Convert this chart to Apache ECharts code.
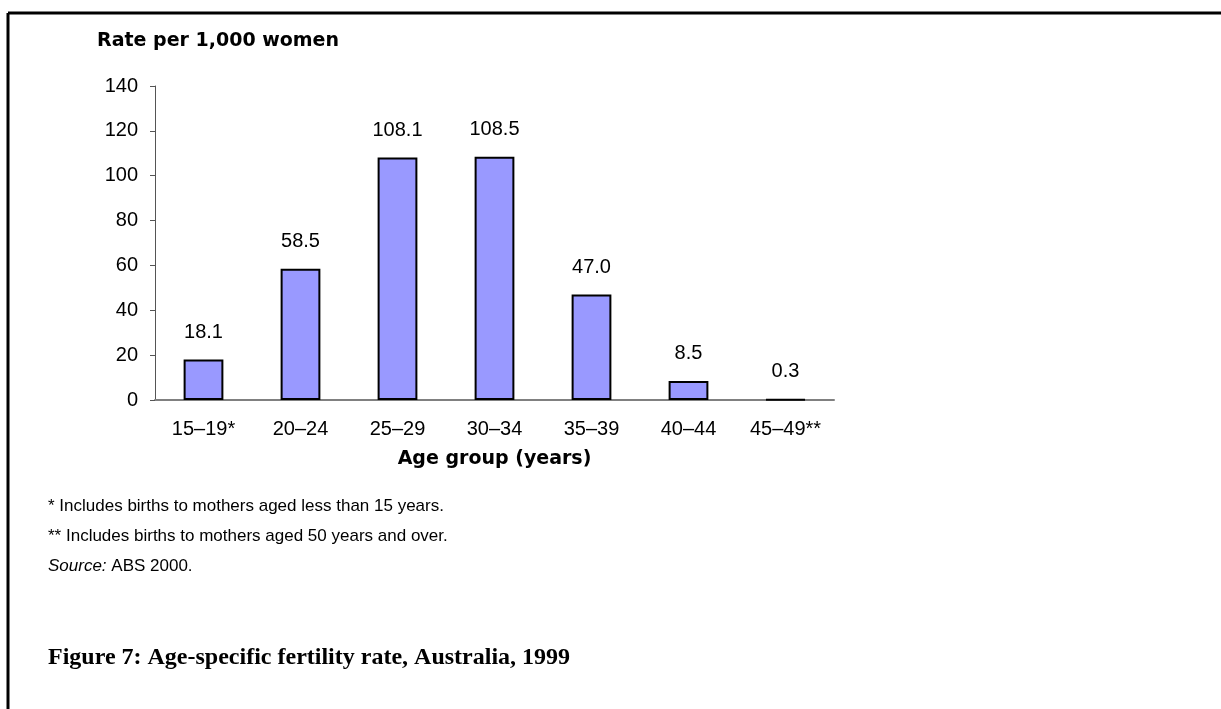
<!DOCTYPE html>
<html lang="en">
  <head>
    <meta charset="UTF-8" />
    <title>Age-specific fertility rate</title>
    <script src="https://cdn.jsdelivr.net/npm/echarts@6/dist/echarts.min.js"></script>
    <style>
      html, body { margin: 0; padding: 0; background: #fff; }
    </style>
  </head>
  <body>
    <div id="main" style="width: 1221px; height: 709px"></div>
    <script type="text/javascript">
      // chart data
      const ageGroups = ["15–19*", "20–24", "25–29", "30–34", "35–39", "40–44", "45–49**"];
      const fertilityRates = [18.1, 58.5, 108.1, 108.5, 47.0, 8.5, 0.3];
      const yTicks = [0, 20, 40, 60, 80, 100, 120, 140];

      const footnotes = [
        "* Includes births to mothers aged less than 15 years.",
        "** Includes births to mothers aged 50 years and over.",
      ];

      let myChart = echarts.init(document.getElementById("main"));
      let sans = "Liberation Sans, Arial, sans-serif";
      let boldSans = "DejaVu Sans, Liberation Sans, sans-serif";

      let options = {
        animation: false,
        backgroundColor: "#fff",
        grid: { left: 155, right: 387, top: 86, bottom: 309 },
        xAxis: {
          type: "category",
          data: ageGroups,
          axisLine: { lineStyle: { color: "#808080", width: 2 } },
          axisTick: { show: false },
          axisLabel: { color: "#000", fontFamily: sans, fontSize: 20, margin: 19 },
          name: "Age group (years)",
          nameLocation: "middle",
          nameGap: 50,
          nameTextStyle: { color: "#000", fontFamily: boldSans, fontSize: 19, fontWeight: "bold" },
        },
        yAxis: {
          type: "value",
          min: yTicks[0],
          max: yTicks[yTicks.length - 1],
          interval: yTicks[1] - yTicks[0],
          splitLine: { show: false },
          axisLine: { show: true, lineStyle: { color: "#555", width: 1 } },
          axisTick: { show: true, length: 5, lineStyle: { color: "#555" } },
          axisLabel: { color: "#000", fontFamily: sans, fontSize: 20, margin: 17 },
        },
        series: [
          {
            type: "bar",
            data: fertilityRates,
            barWidth: "41%",
            itemStyle: { color: "#9999FF", borderColor: "#000", borderWidth: 2 },
            label: {
              show: true,
              position: "top",
              distance: 17,
              color: "#000",
              fontFamily: sans,
              fontSize: 20,
              formatter: (p) => p.value.toFixed(1),
            },
          },
        ],
        graphic: [
          // frame (top and left edges only)
          { type: "line", shape: { x1: 8, y1: 13, x2: 1221, y2: 13 }, style: { stroke: "#000", lineWidth: 3 } },
          { type: "line", shape: { x1: 8, y1: 13, x2: 8, y2: 709 }, style: { stroke: "#000", lineWidth: 3 } },
          {
            type: "text", left: 97, top: 32,
            style: { text: "Rate per 1,000 women", font: "bold 19px " + boldSans, fill: "#000" },
          },
          {
            type: "text", left: 48, top: 498,
            style: { text: footnotes[0], font: "17px " + sans, fill: "#000" },
          },
          {
            type: "text", left: 48, top: 528,
            style: { text: footnotes[1], font: "17px " + sans, fill: "#000" },
          },
          {
            type: "text", left: 48, top: 558,
            style: {
              text: "{i|Source:} ABS 2000.",
              font: "17px " + sans,
              fill: "#000",
              rich: { i: { fontStyle: "italic", fontFamily: sans, fontSize: 17 } },
            },
          },
          {
            type: "text", left: 48, top: 646,
            style: {
              text: "Figure 7: Age-specific fertility rate, Australia, 1999",
              font: "bold 24px Liberation Serif, serif",
              fill: "#000",
            },
          },
        ],
      };
      myChart.setOption(options);
    </script>
  </body>
</html>
